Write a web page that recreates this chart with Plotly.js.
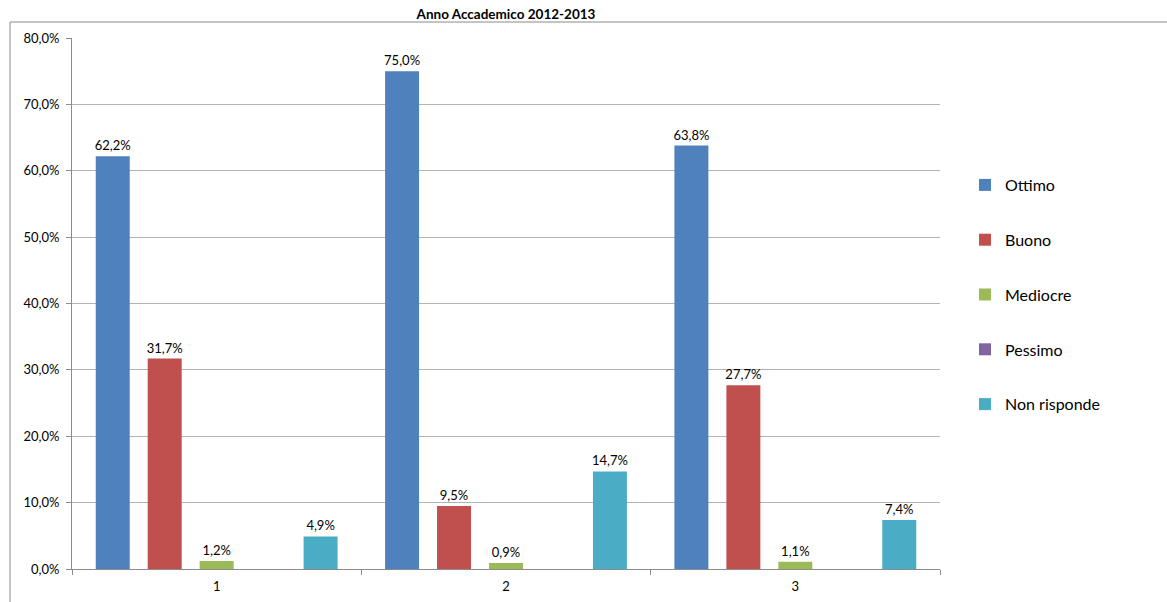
<!DOCTYPE html>
<html>
<head>
<meta charset="utf-8">
<script src="https://cdn.plot.ly/plotly-3.0.1.min.js"></script>
<style>html,body{margin:0;padding:0;background:#fff;}#chart{width:1167px;height:602px;}</style>
</head>
<body>
<div id="chart"></div>
<script>
const categories = ["1", "2", "3"];
const seriesNames = ["Ottimo", "Buono", "Mediocre", "Pessimo", "Non risponde"];
const ottimo = [0.622, 0.750, 0.638];
const buono = [0.317, 0.095, 0.277];
const mediocre = [0.012, 0.009, 0.011];
const pessimo = [0, 0, 0];
const nonRisponde = [0.049, 0.147, 0.074];
const yTicks = [0, 0.1, 0.2, 0.3, 0.4, 0.5, 0.6, 0.7, 0.8];
const colors = ["#4F81BD", "#C0504D", "#9BBB59", "#8064A2", "#4BACC6"];

const FONT = "Lato, 'Open Sans', sans-serif";
const allValues = [ottimo, buono, mediocre, pessimo, nonRisponde];
function fmt(v) { return v === 0 ? "" : (v * 100).toFixed(1).replace(".", ",") + "%"; }

const traces = allValues.map((vals, i) => ({
  type: "bar",
  name: seriesNames[i],
  x: categories,
  y: vals,
  text: vals.map(fmt),
  textposition: "outside",
  constraintext: "none",
  textfont: {family: FONT, size: 13, color: "#000"},
  cliponaxis: false,
  marker: {color: colors[i]},
  legendgroup: "g" + i,
  hoverinfo: "name+y"
}));

const layout = {
  width: 1167, height: 602,
  margin: {l: 72, r: 227, t: 38, b: 33},
  paper_bgcolor: "#fff", plot_bgcolor: "#fff",
  separators: ",.",
  font: {family: FONT, size: 13, color: "#000"},
  title: {text: "<b>Anno Accademico 2012-2013</b>", x: 0.5, xref: "paper", y: 1 - 14/602, yref: "container", yanchor: "middle", font: {family: FONT, size: 13.5, color: "#000"}},
  barmode: "group",
  bargap: 0.102,
  bargroupgap: 0.346,
  xaxis: {
    type: "category",
    showgrid: false,
    showline: true, linecolor: "#8c8c8c", linewidth: 1,
    ticks: "outside", tickson: "boundaries", ticklen: 5, tickcolor: "#8c8c8c",
    ticklabelstandoff: 5,
    tickfont: {family: FONT, size: 13, color: "#000"},
    zeroline: false
  },
  yaxis: {
    range: [0, 0.8],
    tickvals: yTicks,
    tickformat: ".1%",
    showgrid: true, gridcolor: "#b3b3b3", gridwidth: 1,
    showline: true, linecolor: "#8c8c8c", linewidth: 1,
    ticks: "outside", ticklen: 5, tickcolor: "#8c8c8c",
    ticklabelstandoff: 4,
    tickfont: {family: FONT, size: 13, color: "#000"},
    zeroline: false
  },
  legend: {
    x: (965 - 72) / 868, xanchor: "left", y: (569 - 294.5) / 531, yanchor: "middle",
    font: {family: FONT, size: 16, color: "#000"},
    tracegroupgap: 31,
    itemwidth: 30,
    bgcolor: "rgba(0,0,0,0)"
  },
  showlegend: true,
  shapes: [{
    type: "rect", xref: "paper", yref: "paper",
    x0: (10 - 72) / 868, x1: 1.4, y0: -0.2, y1: (569 - 22) / 531,
    line: {color: "#8a8a8a", width: 1}, fillcolor: "rgba(0,0,0,0)", layer: "below"
  }]
};

Plotly.newPlot("chart", traces, layout, {displayModeBar: false, staticPlot: true});
</script>
</body>
</html>
